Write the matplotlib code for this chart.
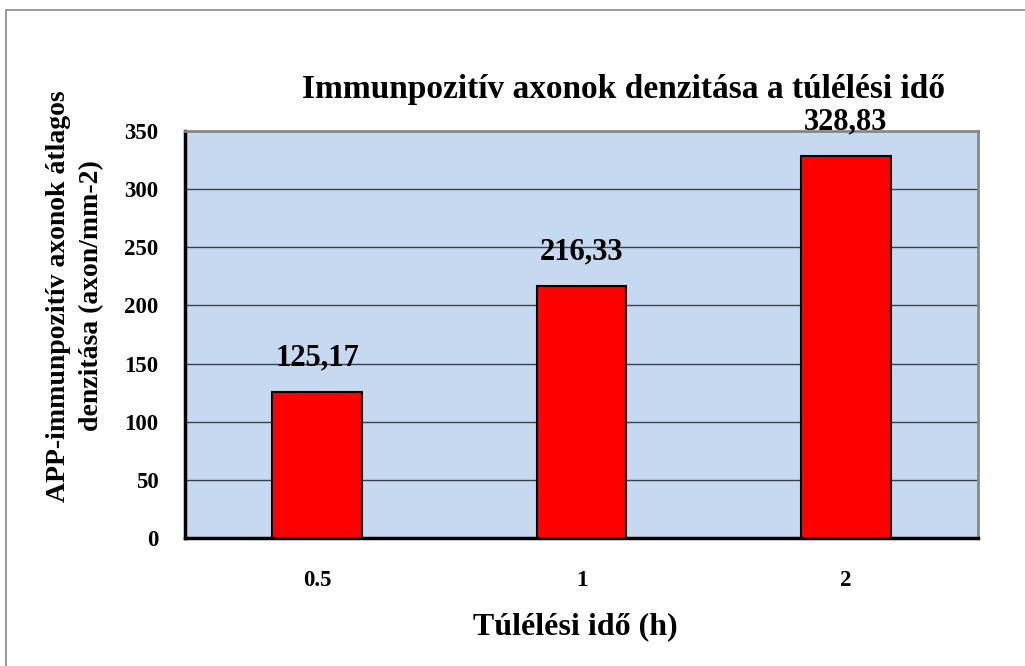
import matplotlib
matplotlib.use("Agg")
import matplotlib.pyplot as plt
from matplotlib.patches import Rectangle

categories = ['0.5', '1', '2']
values = [125.17, 216.33, 328.83]
value_labels = ['125,17', '216,33', '328,83']
yticks = [0, 50, 100, 150, 200, 250, 300, 350]

plt.rcParams['font.family'] = ['Liberation Serif', 'DejaVu Serif']
plt.rcParams['font.weight'] = 'bold'

fig = plt.figure(figsize=(10.25, 6.66), dpi=100)
# outer chart border (cropped on the right and bottom)
fig.patches.append(Rectangle((0.006, -0.05), 1.1, 1.035, transform=fig.transFigure,
                             fill=False, edgecolor='#888888', linewidth=1.2))

ax = fig.add_axes([0.1805, 0.1922, 0.7735, 0.611])
ax.set_facecolor('#C6D9F0')
x = list(range(len(categories)))
ax.bar(x, values, width=0.34, color='#FF0000', edgecolor='black', linewidth=1.5, zorder=3)

for xi, v, lab in zip(x, values, value_labels):
    ax.text(xi, v + 17, lab, ha='center', va='bottom', fontsize=22, fontweight='bold')

ax.set_xlim(-0.5, 2.5)
ax.set_ylim(0, 350)
ax.set_yticks(yticks)
ax.set_xticks(x)
ax.set_xticklabels(categories)
ax.grid(axis='y', color='#3a4050', linewidth=1.0, zorder=1)
ax.set_axisbelow(True)
ax.tick_params(axis='both', length=0, labelsize=16.5)
ax.tick_params(axis='y', pad=19)
ax.tick_params(axis='x', pad=23)
for lab in ax.get_xticklabels() + ax.get_yticklabels():
    lab.set_fontweight('bold')

ax.spines['left'].set_linewidth(2.5)
ax.spines['bottom'].set_linewidth(2.5)
ax.spines['top'].set_color('#888888')
ax.spines['right'].set_color('#888888')
ax.spines['top'].set_linewidth(2)
ax.spines['right'].set_linewidth(2)

fig.text(0.608, 0.866, 'Immunpozitív axonok denzitása a túlélési idő', fontsize=24,
         fontweight='bold', ha='center', va='center')
fig.text(0.5615, 0.059, 'Túlélési idő (h)', fontsize=23, fontweight='bold',
         ha='center', va='center')
fig.text(0.073, 0.556, 'APP-immunpozitív axonok átlagos\ndenzitása (axon/mm-2)', fontsize=20,
         fontweight='bold', rotation=90, ha='center', va='center', multialignment='center',
         linespacing=1.4)

fig.savefig('out.png', dpi=100)
